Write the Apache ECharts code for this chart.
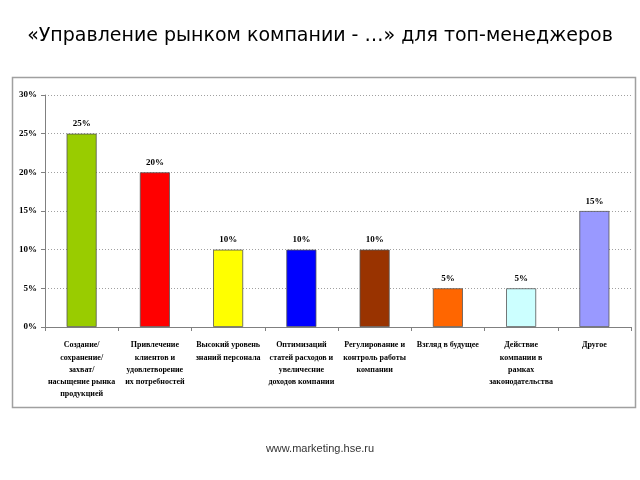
<!DOCTYPE html>
<html><head><meta charset="utf-8">
<script src="https://cdn.jsdelivr.net/npm/echarts@6/dist/echarts.min.js"></script>
<style>html,body{margin:0;padding:0;background:#fff}#c{width:640px;height:480px}</style>
</head><body><div id="c"></div>
<script>
const categories = [
  "Создание/\nсохранение/\nзахват/\nнасыщение рынка\nпродукцией",
  "Привлечение\nклиентов и\nудовлетворение\nих потребностей",
  "Высокий уровень\nзнаний персонала",
  "Оптимизаций\nстатей расходов и\nувеличесние\nдоходов компании",
  "Регулирование и\nконтроль работы\nкомпании",
  "Взгляд в будущее",
  "Действие\nкомпании в\nрамках\nзаконодательства",
  "Другое"
];
const values = [25, 20, 10, 10, 10, 5, 5, 15];
const colors = ["#99CC00", "#FF0000", "#FFFF00", "#0000FF", "#993300", "#FF6600", "#CCFFFF", "#9999FF"];
const yTicks = [0, 5, 10, 15, 20, 25, 30];

const chart = echarts.init(document.getElementById('c'));
chart.setOption({
  animation: false,
  backgroundColor: '#fff',
  title: {
    text: '«Управление рынком компании - …» для топ-менеджеров',
    left: 'center', top: 22,
    textStyle: {fontFamily: 'DejaVu Sans', fontSize: 19, fontWeight: 'normal', color: '#000'}
  },
  graphic: [
    {type: 'rect', shape: {x: 12.5, y: 77.5, width: 623, height: 330}, style: {fill: 'none', stroke: '#a0a0a0', lineWidth: 1.5}, z: -1},
    {type: 'text', left: 'center', top: 443, style: {text: 'www.marketing.hse.ru', font: '11px "Liberation Sans"', fill: '#333'}}
  ],
  grid: {left: 45, right: 9, top: 95, bottom: 153},
  xAxis: {
    type: 'category', data: categories,
    axisLine: {lineStyle: {color: '#808080'}},
    axisTick: {show: true, alignWithLabel: false, length: 4, lineStyle: {color: '#808080'}},
    axisLabel: {interval: 0, fontFamily: 'Liberation Serif', fontWeight: 'bold', fontSize: 8, color: '#000', lineHeight: 12.3, margin: 12}
  },
  yAxis: {
    type: 'value', min: 0, max: 30, interval: 5,
    axisLine: {show: true, lineStyle: {color: '#808080'}},
    axisTick: {show: true, length: 4, lineStyle: {color: '#808080'}},
    axisLabel: {formatter: v => yTicks.includes(v) ? v + '%' : '', fontFamily: 'Liberation Serif', fontWeight: 'bold', fontSize: 9, color: '#000', margin: 8},
    splitLine: {show: true, lineStyle: {color: '#a0a0a0', type: [1, 2]}}
  },
  series: [{
    type: 'bar', barWidth: '41%',
    data: values.map((v, i) => ({value: v, itemStyle: {color: colors[i], borderColor: '#555', borderWidth: 0.8}})),
    label: {show: true, position: 'top', formatter: p => p.value + '%', fontFamily: 'Liberation Serif', fontWeight: 'bold', fontSize: 9, color: '#000', distance: 5}
  }]
});
</script></body></html>
